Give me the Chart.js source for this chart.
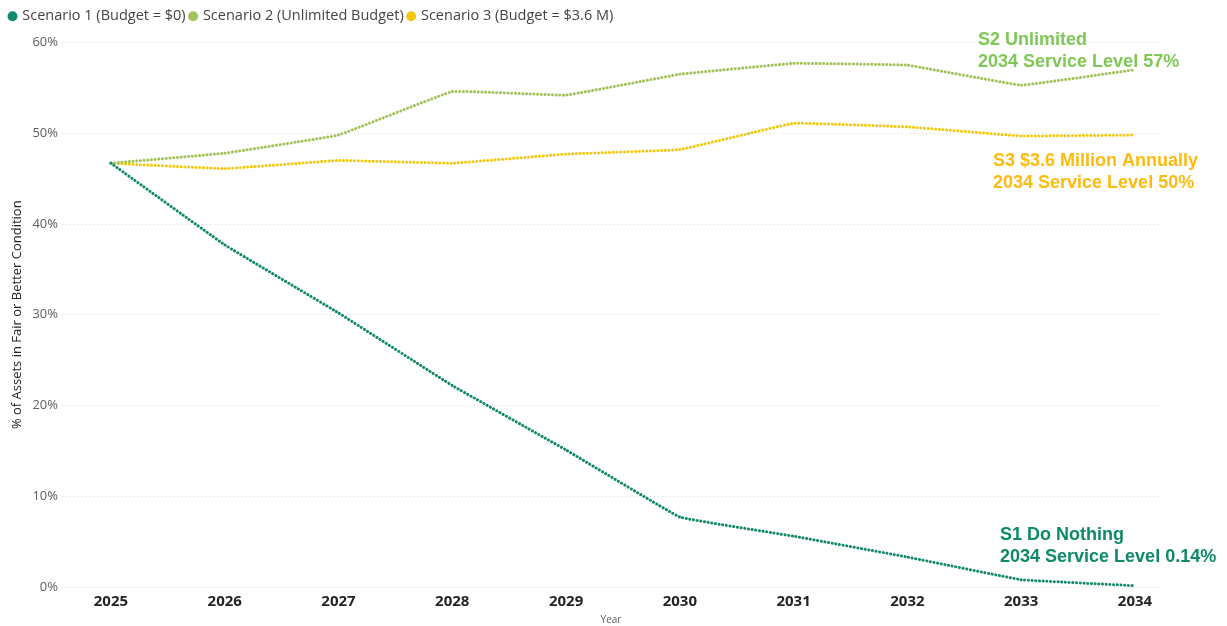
<!DOCTYPE html>
<html>
<head>
<meta charset="utf-8">
<script src="https://cdn.jsdelivr.net/npm/chart.js@4.4.1/dist/chart.umd.min.js"></script>
<style>
  html, body { margin: 0; padding: 0; background: #fff; }
  #wrap { width: 1227px; height: 626px; position: relative; }
</style>
</head>
<body>
<div id="wrap"><canvas id="chart"></canvas></div>
<script>
// years on the x axis
const years = [2025, 2026, 2027, 2028, 2029, 2030, 2031, 2032, 2033, 2034];

// % of assets in fair or better condition, per scenario
const doNothing = [46.7, 37.7, 30.2, 22.2, 15.1, 7.7, 5.6, 3.3, 0.8, 0.14];
const unlimited = [46.7, 47.8, 49.8, 54.6, 54.2, 56.5, 57.7, 57.5, 55.3, 57.0];
const budget36 = [46.7, 46.1, 47.0, 46.7, 47.7, 48.2, 51.1, 50.7, 49.7, 49.8];

const yTicks = [0, 10, 20, 30, 40, 50, 60];

const seriesNames = [
    'Scenario 1 (Budget = $0)',
    'Scenario 2 (Unlimited Budget)',
    'Scenario 3 (Budget = $3.6 M)'
];

const endNotes = [
    { lines: ['S2 Unlimited', '2034 Service Level 57%'], color: '#7ec856', x: 978, y: 40 },
    { lines: ['S3 $3.6 Million Annually', '2034 Service Level 50%'], color: '#fdbb0e', x: 993, y: 161 },
    { lines: ['S1 Do Nothing', '2034 Service Level 0.14%'], color: '#0f8a68', x: 1000, y: 535 }
];

// draws the scenario notes on the right hand side
const endNotesPlugin = {
    id: 'endNotes',
    afterDatasetsDraw(chart) {
        const ctx = chart.ctx;
        ctx.save();
        ctx.font = 'bold 18px "Liberation Sans", Arial, sans-serif';
        ctx.textAlign = 'left';
        ctx.textBaseline = 'middle';
        endNotes.forEach(n => {
            ctx.fillStyle = n.color;
            n.lines.forEach((t, i) => ctx.fillText(t, n.x, n.y + i * 22));
        });
        ctx.restore();
    }
};

// leave some room under the legend, and nudge it in from the corner
const legendGap = {
    id: 'legendGap',
    afterInit(chart) {
        const fit = chart.legend.fit;
        chart.legend.fit = function () {
            fit.call(this);
            this.height += 9;
        };
    },
    beforeDraw(chart) {
        chart.legend.left = 5;
    }
};

function dotted(label, data, color) {
    return {
        label: label,
        data: data,
        borderColor: color,
        backgroundColor: color,
        borderWidth: 3,
        borderDash: [0.1, 3.6],
        borderCapStyle: 'round',
        pointRadius: 0,
        pointHoverRadius: 0,
        tension: 0.05
    };
}

new Chart(document.getElementById('chart'), {
    type: 'line',
    plugins: [endNotesPlugin, legendGap],
    data: {
        labels: years,
        datasets: [
            dotted(seriesNames[0], doNothing, '#118a6b'),
            dotted(seriesNames[1], unlimited, '#a2c25a'),
            dotted(seriesNames[2], budget36, '#f2c811')
        ]
    },
    options: {
        responsive: true,
        maintainAspectRatio: false,
        animation: false,
        layout: {
            padding: { top: 4, right: 67, bottom: 0, left: 0 }
        },
        scales: {
            x: {
                type: 'linear',
                min: 2024.57,
                max: 2034.22,
                afterBuildTicks: (s) => { s.ticks = years.map(v => ({ value: v })); },
                afterFit: (s) => { s.height = 39; },
                grid: { display: false },
                border: { display: false },
                ticks: {
                    color: '#252423',
                    padding: -2,
                    maxRotation: 0,
                    autoSkip: false,
                    font: { family: '"Open Sans", sans-serif', size: 15, weight: 'bold' },
                    callback: (v) => String(v)
                },
                title: {
                    display: true,
                    text: 'Year',
                    color: '#605e5c',
                    padding: { top: 0, bottom: 0 },
                    font: { family: '"Open Sans", sans-serif', size: 10 }
                }
            },
            y: {
                min: 0,
                max: 60,
                afterBuildTicks: (s) => { s.ticks = yTicks.map(v => ({ value: v })); },
                afterFit: (s) => { s.width = 62; },
                border: { display: false, dash: [1, 3] },
                grid: {
                    color: '#d6d6d6',
                    lineWidth: 1,
                    drawTicks: false
                },
                ticks: {
                    color: '#605e5c',
                    padding: 4,
                    font: { family: '"Open Sans", sans-serif', size: 13 },
                    callback: (v) => v + '%'
                },
                title: {
                    display: true,
                    text: '% of Assets in Fair or Better Condition',
                    color: '#252423',
                    padding: { top: 9, bottom: 0 },
                    font: { family: '"Open Sans", sans-serif', size: 13 }
                }
            }
        },
        plugins: {
            legend: {
                position: 'top',
                align: 'start',
                labels: {
                    usePointStyle: true,
                    pointStyle: 'circle',
                    boxWidth: 5,
                    boxHeight: 5,
                    padding: 5,
                    color: '#444',
                    font: { family: '"Open Sans", sans-serif', size: 14.5 }
                }
            },
            tooltip: { enabled: false }
        }
    }
});
</script>
</body>
</html>
